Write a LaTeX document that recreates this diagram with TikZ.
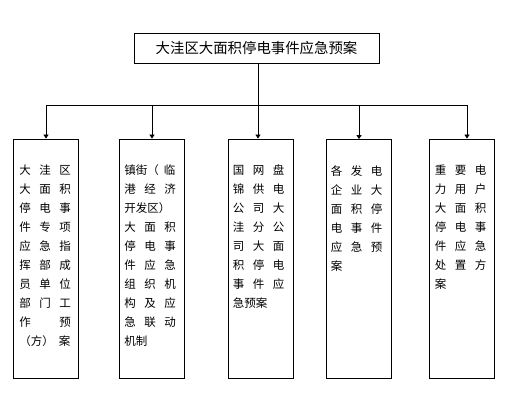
\documentclass[tikz,border=0pt]{standalone}
\usepackage{fontspec}
\setmainfont{Noto Sans CJK SC}
\usetikzlibrary{arrows.meta, positioning}
\newcommand{\cjkrow}[3]{\makebox[20pt][l]{#1}\makebox[20pt][l]{#2}#3}

\begin{document}
\begin{tikzpicture}[x=1pt, y=-1pt,
		plan/.style={rectangle, draw, line width=0.8pt, inner sep=0pt,
			minimum width=245pt, minimum height=30pt, font=\fontsize{14.4}{16}\selectfont},
		unit/.style={rectangle, draw, line width=0.8pt, inner sep=0pt,
			minimum width=65pt, minimum height=239pt},
		gridtext/.style={anchor=north west, inner sep=0pt, align=left,
			font=\fontsize{11.5}{19}\selectfont},
		wire/.style={line width=0.8pt},
		arr/.style={-{Triangle[width=5pt,length=4pt]}, line width=0.8pt}
	]
	\useasboundingbox (0,0) rectangle (510,411);
	\node[plan] (top) at (256.5,48) {大洼区大面积停电事件应急预案};

	\node[unit] (b1) at (45.5,258.5) {};
	\node[unit] (b2) at (151.5,258.5) {};
	\node[unit] (b3) at (260.5,258.5) {};
	\node[unit] (b4) at (358.5,259) {};
	\node[unit] (b5) at (461.5,258.5) {};

	\node[gridtext] (t1) at ([xshift=6.5pt,yshift=-26pt]b1.north west)
		{\cjkrow{大}{洼}{区}\\\cjkrow{大}{面}{积}\\\cjkrow{停}{电}{事}\\
		 \cjkrow{件}{专}{项}\\\cjkrow{应}{急}{指}\\\cjkrow{挥}{部}{成}\\
		 \cjkrow{员}{单}{位}\\\cjkrow{部}{门}{工}\\\cjkrow{作}{}{预}\\
		 \makebox[51pt][l]{（方）\hfill 案}};
	\node[gridtext] (t2) at ([xshift=5.5pt,yshift=-26pt]b2.north west)
		{\makebox[51pt][l]{镇街（\hfill 临}\\\cjkrow{港}{经}{济}\\开发区）\\
		 \cjkrow{大}{面}{积}\\\cjkrow{停}{电}{事}\\\cjkrow{件}{应}{急}\\
		 \cjkrow{组}{织}{机}\\\cjkrow{构}{及}{应}\\\cjkrow{急}{联}{动}\\
		 机制};
	\node[gridtext] (t3) at ([xshift=5pt,yshift=-26pt]b3.north west)
		{\cjkrow{国}{网}{盘}\\\cjkrow{锦}{供}{电}\\\cjkrow{公}{司}{大}\\
		 \cjkrow{洼}{分}{公}\\\cjkrow{司}{大}{面}\\\cjkrow{积}{停}{电}\\
		 \cjkrow{事}{件}{应}\\急预案};
	\node[gridtext] (t4) at ([xshift=5pt,yshift=-26pt]b4.north west)
		{\cjkrow{各}{发}{电}\\\cjkrow{企}{业}{大}\\\cjkrow{面}{积}{停}\\
		 \cjkrow{电}{事}{件}\\\cjkrow{应}{急}{预}\\案};
	\node[gridtext] (t5) at ([xshift=6pt,yshift=-26pt]b5.north west)
		{\cjkrow{重}{要}{电}\\\cjkrow{力}{用}{户}\\\cjkrow{大}{面}{积}\\
		 \cjkrow{停}{电}{事}\\\cjkrow{件}{应}{急}\\\cjkrow{处}{置}{方}\\案};

	% bus between title and units
	\coordinate (j1) at (46,105);
	\coordinate (j2) at (152,105);
	\coordinate (j3) at (258,105);
	\coordinate (j4) at (359,105);
	\coordinate (j5) at (467,105);
	\draw[wire] (j3 |- top.south) -- (j3);
	\draw[wire] (j1) -- (j5);
	\draw[arr] (j1) -- (j1 |- b1.north);
	\draw[arr] (j2) -- (j2 |- b2.north);
	\draw[arr] (j3) -- (j3 |- b3.north);
	\draw[arr] (j4) -- (j4 |- b4.north);
	\draw[arr] (j5) -- (j5 |- b5.north);
\end{tikzpicture}
\end{document}
